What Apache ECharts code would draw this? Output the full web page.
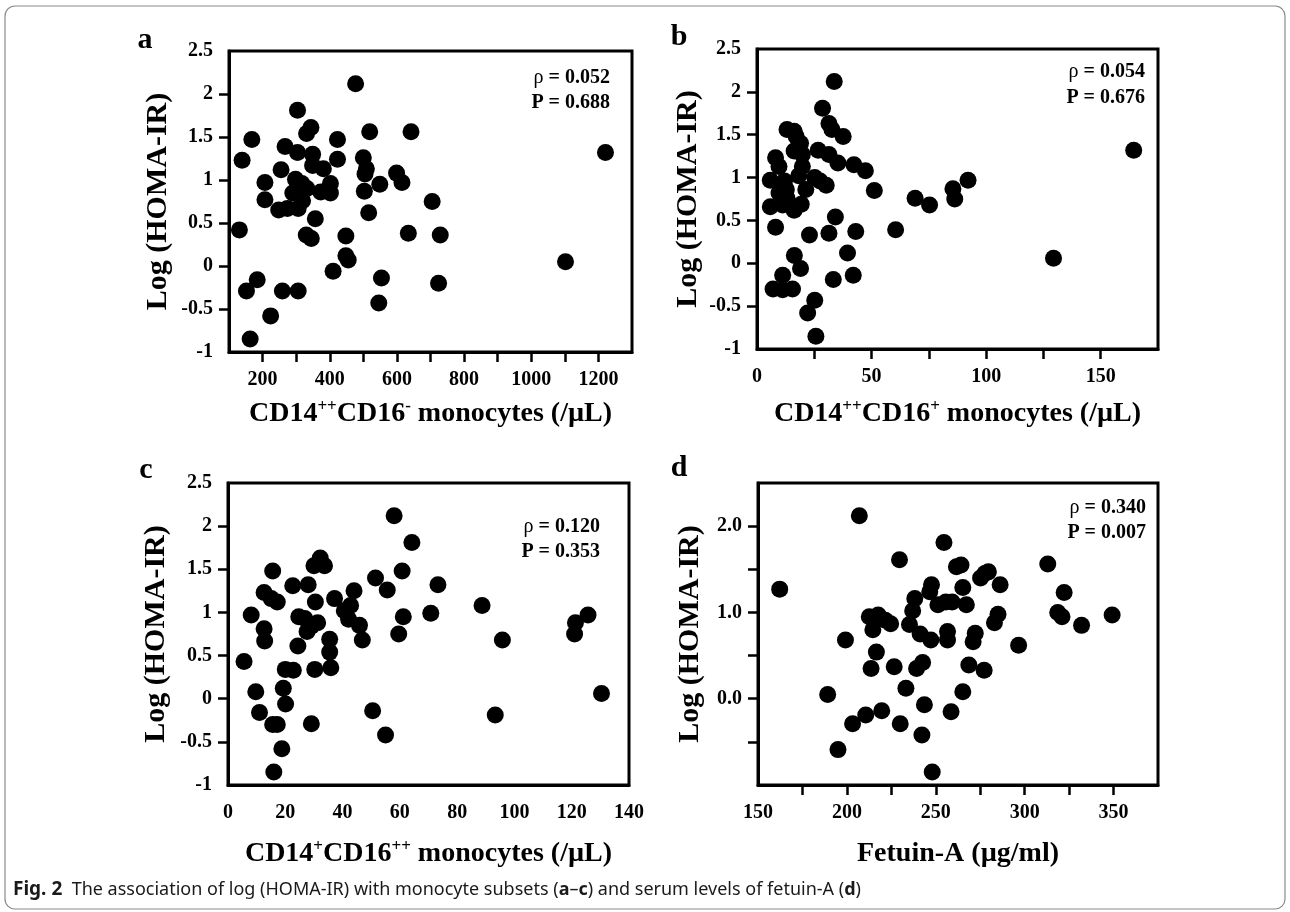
<!DOCTYPE html>
<html>
<head>
<meta charset="utf-8">
<script src="https://cdn.jsdelivr.net/npm/echarts@6.0.0/dist/echarts.min.js"></script>
<style>
html,body{margin:0;padding:0;background:#fff;}
#chart{width:1290px;height:912px;}
</style>
</head>
<body>
<div id="chart"></div>
<script>
// ---------- data ----------
const aX = [477,304,344,331,168,423,519,642,139,267,304,349,423,500,255,349,381,509,505,599,615,207,298,317,402,549,290,332,373,402,503,207,319,248,274,306,705,516,357,131,330,345,448,634,729,448,455,410,1102,1221,184,152,259,306,554,724,546,224,163];
const aY = [2.12,1.81,1.61,1.54,1.47,1.47,1.56,1.56,1.23,1.39,1.32,1.30,1.24,1.26,1.12,1.17,1.13,1.13,1.07,1.08,0.97,0.97,1.01,0.96,0.96,0.95,0.85,0.90,0.86,0.85,0.87,0.77,0.76,0.65,0.67,0.67,0.75,0.62,0.55,0.42,0.36,0.32,0.35,0.38,0.36,0.12,0.07,-0.06,0.05,1.32,-0.16,-0.29,-0.29,-0.29,-0.14,-0.20,-0.43,-0.58,-0.85];

const bX = [33.7,28.6,31.4,32.7,37.6,13.1,16.2,17.1,19,26.7,16.2,19.8,31.4,8.1,9.6,35.3,42.3,47.3,19.8,18.2,5.8,12,25.2,27.5,30.2,21.3,51.2,9.6,12.8,13.1,11.2,19.3,16.2,5.8,69,75.3,85.5,86.3,92.1,8.1,22.9,31.4,34.2,43.1,60.5,39.5,16.3,19,11.2,7,11.2,15.5,33.3,42,25.2,22.1,25.7,129.4,164.4];
const bY = [2.12,1.81,1.63,1.56,1.48,1.56,1.54,1.48,1.40,1.32,1.31,1.27,1.27,1.23,1.13,1.17,1.15,1.08,1.13,1.02,0.97,0.96,1.00,0.96,0.91,0.86,0.85,0.82,0.86,0.76,0.68,0.69,0.62,0.66,0.76,0.68,0.87,0.75,0.97,0.42,0.33,0.35,0.54,0.37,0.39,0.12,0.09,-0.06,-0.14,-0.30,-0.31,-0.30,-0.19,-0.14,-0.43,-0.58,-0.85,0.06,1.32];

const cX = [58,64.2,32.2,30,33.7,15.6,60.8,51.5,22.6,28,73.3,12.6,44,55.6,15.1,17.2,30.5,37.2,42.8,40.6,88.7,8.1,24.7,26.8,42.1,70.8,61.2,125.7,31.3,45.9,12.6,27.6,29.1,59.6,121.3,121,12.8,35.5,46.9,95.8,24.4,35.5,5.6,20,22.8,30.3,35.9,9.7,19.3,20.1,11,15.6,17.2,29.1,50.5,93.3,55,18.8,16,130.4];
const cY = [2.12,1.81,1.63,1.54,1.54,1.48,1.48,1.40,1.31,1.32,1.32,1.23,1.25,1.26,1.16,1.12,1.12,1.16,1.08,1.02,1.08,0.97,0.95,0.93,0.92,0.99,0.95,0.97,0.88,0.85,0.81,0.78,0.84,0.75,0.88,0.75,0.67,0.69,0.68,0.68,0.61,0.54,0.43,0.34,0.33,0.34,0.36,0.08,0.12,-0.06,-0.16,-0.30,-0.30,-0.29,-0.14,-0.19,-0.42,-0.58,-0.85,0.06];

const dX = [207,254.6,229.6,313,261.6,264.2,277.6,279.6,275.2,162.2,247.6,246.6,265.2,286.2,322.2,238.2,251.2,255.6,259.2,267.2,237,212.6,217.6,221.6,224.6,318.6,321,349.2,285,283,332,235.2,214.6,241.2,256.6,256.6,247.2,272.2,271,199.2,296.6,216.6,213.6,226.6,239.2,242.6,268.6,277.2,233.2,189.2,265.2,243.6,210.6,219.6,203.2,230,258.6,242.2,195,248];
const dY = [2.12,1.81,1.61,1.56,1.53,1.55,1.45,1.47,1.40,1.27,1.32,1.24,1.29,1.32,1.23,1.16,1.09,1.12,1.12,1.09,1.02,0.95,0.97,0.91,0.87,1.00,0.95,0.97,0.98,0.88,0.85,0.86,0.80,0.75,0.78,0.68,0.68,0.76,0.66,0.68,0.62,0.54,0.35,0.37,0.35,0.42,0.39,0.33,0.12,0.05,0.08,-0.07,-0.19,-0.14,-0.29,-0.29,-0.15,-0.42,-0.59,-0.85];

// tick labels
const yLabelsABC = [-1,-0.5,0,0.5,1,1.5,2,2.5];
const yLabelsD = [0,1,2];
const yTicks = [-0.5,0,0.5,1,1.5,2];
const xLabelsA = [200,400,600,800,1000,1200];
const xTicksA = [200,300,400,500,600,700,800,900,1000,1100,1200];
const xLabelsB = [0,50,100,150];
const xTicksB = [25,50,75,100,125,150];
const xLabelsC = [0,20,40,60,80,100,120,140];
const xLabelsD = [150,200,250,300,350];
const xTicksD = [175,200,225,250,275,300,325,350];

const stats = [
  {rho:'0.052', p:'0.688'},
  {rho:'0.054', p:'0.676'},
  {rho:'0.120', p:'0.353'},
  {rho:'0.340', p:'0.007'}
];

// ---------- chart ----------
const serif = '"Liberation Serif", "Times New Roman", serif';
const chart = echarts.init(document.getElementById('chart'), null, {renderer:'canvas'});

const grids = [
  {left:229, top:51, width:403, height:301},
  {left:757, top:49, width:401, height:300},
  {left:228, top:483, width:401, height:302},
  {left:758, top:483, width:400, height:302}
].map(g => Object.assign({show:true, borderColor:'#000', borderWidth:3, backgroundColor:'#fff'}, g));

const supRich = {
  b:{fontSize:28, fontWeight:'bold', fontFamily:serif, color:'#000', lineHeight:32, verticalAlign:'middle'},
  s:{fontSize:17, fontWeight:'bold', fontFamily:serif, color:'#000', lineHeight:17, verticalAlign:'top'}
};

function xAxis(i, min, max, interval, labels, ticks, name, gap) {
  return {
    type:'value', gridIndex:i, min, max, interval,
    splitLine:{show:false},
    axisLine:{show:true, onZero:false, lineStyle:{color:'#000', width:3}},
    axisTick:{show: ticks !== null, inside:false, length:10, lineStyle:{color:'#000', width:2.5}, customValues: ticks || undefined},
    axisLabel:{margin:18, color:'#000', fontSize:20, fontWeight:'bold', fontFamily:serif,
      customValues: labels,
      formatter: v => labels.indexOf(v) >= 0 ? String(v) : ''},
    name, nameLocation:'middle', nameGap:gap,
    nameTextStyle:{fontSize:28, fontWeight:'bold', fontFamily:serif, color:'#000', rich:supRich}
  };
}
function yAxis(i, labels, fmt, gap) {
  return {
    type:'value', gridIndex:i, min:-1, max:2.5, interval:0.5,
    splitLine:{show:false},
    axisLine:{show:true, onZero:false, lineStyle:{color:'#000', width:3}},
    axisTick:{show:true, inside:false, length:10, lineStyle:{color:'#000', width:2.5}, customValues:yTicks},
    axisLabel:{margin:16, color:'#000', fontSize:20, fontWeight:'bold', fontFamily:serif,
      customValues: labels,
      formatter: v => labels.indexOf(v) >= 0 ? fmt(v) : ''},
    name:'Log (HOMA-IR)', nameLocation:'middle', nameGap:gap, nameRotate:90,
    nameTextStyle:{fontSize:30, fontWeight:'bold', fontFamily:serif, color:'#000'}
  };
}

const plain = v => String(v);
const oneDec = v => v.toFixed(1);

const xs = [
  xAxis(0, 100, 1300, 100, xLabelsA, xTicksA, '{b|CD14}{s|++}{b|CD16}{s|-}{b| monocytes (/µL)}', 46),
  xAxis(1, 0, 175, 25, xLabelsB, xTicksB, '{b|CD14}{s|++}{b|CD16}{s|+}{b| monocytes (/µL)}', 49),
  xAxis(2, 0, 140, 20, xLabelsC, null, '{b|CD14}{s|+}{b|CD16}{s|++}{b| monocytes (/µL)}', 53),
  xAxis(3, 150, 375, 25, xLabelsD, xTicksD, '{b|Fetuin-A (µg/ml)}', 53)
];
const ys = [
  yAxis(0, yLabelsABC, plain, 56),
  yAxis(1, yLabelsABC, plain, 54),
  yAxis(2, yLabelsABC, plain, 57),
  yAxis(3, yLabelsD, oneDec, 53)
];

function pairs(X, Y){ return X.map((x,k)=>[x, Y[k]]); }
const series = [[aX,aY],[bX,bY],[cX,cY],[dX,dY]].map((s,i)=>({
  type:'scatter', xAxisIndex:i, yAxisIndex:i, data:pairs(s[0], s[1]),
  symbol:'circle', symbolSize:17, itemStyle:{color:'#000', opacity:1},
  emphasis:{disabled:true}, silent:true, z:3
}));

// annotations and decorations
const annPos = [[610,78,103],[1145,72,98],[600,527,552],[1146,508,533]];
const letters = [['a',145,40],['b',679,37],['c',146,470],['d',679,468]];
const graphic = [
  {type:'rect', shape:{x:5, y:6, width:1280, height:903, r:10}, style:{fill:'none', stroke:'#8a8a8a', lineWidth:1.2}, z:0, silent:true}
];
letters.forEach(l => graphic.push({type:'text', x:l[1], y:l[2], z:10, silent:true,
  style:{text:l[0], fill:'#000', font:'bold 30px ' + serif, align:'center', verticalAlign:'middle'}}));
stats.forEach((s,i) => {
  const p = annPos[i];
  graphic.push({type:'text', x:p[0], y:p[1], z:10, silent:true, style:{
    text:'{r|ρ}{b| = ' + s.rho + '}', align:'right', verticalAlign:'middle',
    rich:{r:{fontSize:20, fontFamily:serif, fill:'#000'}, b:{fontSize:20, fontWeight:'bold', fontFamily:serif, fill:'#000'}}}});
  graphic.push({type:'text', x:p[0], y:p[2], z:10, silent:true, style:{
    text:'P = ' + s.p, align:'right', verticalAlign:'middle', fill:'#000', font:'bold 20px ' + serif}});
});
graphic.push({type:'text', x:13, y:890, z:10, silent:true, style:{
  text:'{fb|Fig. 2}{n|  The association of log (HOMA-IR) with monocyte subsets (}{nb|a}{n|–}{nb|c}{n|) and serum levels of fetuin-A (}{nb|d}{n|)}',
  align:'left', verticalAlign:'middle',
  rich:{
    fb:{fontSize:19, fontWeight:'bold', fontFamily:'"Noto Sans", sans-serif', fill:'#1a1a1a'},
    n:{fontSize:18, fontFamily:'"Noto Sans", sans-serif', fill:'#1a1a1a'},
    nb:{fontSize:18, fontWeight:'bold', fontFamily:'"Noto Sans", sans-serif', fill:'#1a1a1a'}
  }}});

chart.setOption({
  animation:false,
  backgroundColor:'#fff',
  grid:grids,
  xAxis:xs,
  yAxis:ys,
  series,
  graphic
});
</script>
</body>
</html>
